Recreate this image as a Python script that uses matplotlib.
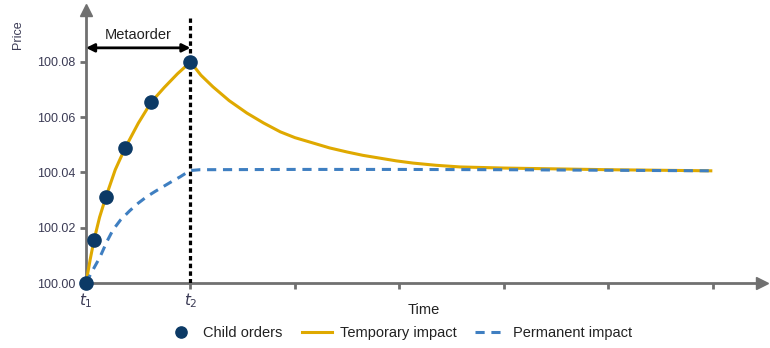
import matplotlib
matplotlib.use("Agg")
import matplotlib.pyplot as plt

plt.rcParams['font.family'] = ['Liberation Sans', 'DejaVu Sans']

# child orders (time in tick units, price)
order_t = [0, 0.077, 0.19, 0.375, 0.625, 1.0]
order_p = [100.0, 100.0156, 100.0311, 100.0489, 100.0655, 100.080]

# temporary impact curve
temp_t = [0, 0.04, 0.077, 0.13, 0.19, 0.28, 0.375, 0.5, 0.625, 0.75, 0.875, 1.0,
          1.1, 1.215, 1.37, 1.54, 1.7, 1.86, 2.0, 2.17, 2.33, 2.5, 2.65, 2.81,
          2.97, 3.13, 3.35, 3.58, 4.0, 4.5, 5.0, 5.5, 5.98]
temp_p = [100.0, 100.0085, 100.0156, 100.0238, 100.0311, 100.0410, 100.0489,
          100.0578, 100.0655, 100.0708, 100.0757, 100.080,
          100.0752, 100.0710, 100.0660, 100.0615, 100.0579, 100.0547, 100.0526,
          100.0507, 100.0489, 100.0474, 100.0462, 100.0452, 100.0442, 100.0434,
          100.0426, 100.0420, 100.0416, 100.0413, 100.0410, 100.0408, 100.0406]

# permanent impact curve
perm_t = [0, 0.07, 0.134, 0.2, 0.258, 0.33, 0.42, 0.5, 0.58, 0.66, 0.74, 0.82,
          0.90, 0.95, 1.0, 1.09, 2.0, 3.0, 4.0, 5.0, 5.98]
perm_p = [100.0, 100.0050, 100.0094, 100.0150, 100.0192, 100.0228, 100.0262,
          100.0289, 100.0312, 100.0331, 100.0349, 100.0367, 100.0384, 100.0396,
          100.0407, 100.0410, 100.0411, 100.0411, 100.0410, 100.0408, 100.0406]

x_ticks = [0, 1, 2, 3, 4, 5, 6]
x_labels = ['$t_1$', '$t_2$', '', '', '', '', '']
y_ticks = [100.00, 100.02, 100.04, 100.06, 100.08]

gold = '#dfa900'
blue = '#3f7fc1'
navy = '#0c3a66'
grey = '#707070'
txt = '#3b3b55'

fig = plt.figure(figsize=(7.7, 3.48), dpi=100)
ax = fig.add_axes([86 / 770, 65 / 348, 676 / 770, 273 / 348])
ax.set_xlim(0, 6.47)
ax.set_ylim(100.0, 100.0988)

ax.plot(temp_t, temp_p, color=gold, lw=2.2, label='Temporary impact', zorder=3)
ax.plot(perm_t, perm_p, color=blue, lw=2.2, ls=(0, (3, 2.2)), label='Permanent impact', zorder=3)
ax.plot(order_t, order_p, 'o', color=navy, ms=9.5, label='Child orders', zorder=5, clip_on=False)

# vertical marker at t2
ax.axvline(1.0, ymin=0, ymax=0.97, color='black', lw=2.3, ls=(0, (1.4, 1.0)), zorder=4)

# metaorder span
ax.annotate('', xy=(0, 100.0851), xytext=(1.0, 100.0851),
            arrowprops=dict(arrowstyle='<|-|>', color='black', lw=2, mutation_scale=12,
                            shrinkA=0, shrinkB=0))
ax.text(0.5, 100.0898, 'Metaorder', ha='center', va='center', fontsize=10.5, color='#222222')

for s in ['top', 'right']:
    ax.spines[s].set_visible(False)
for s in ['left', 'bottom']:
    ax.spines[s].set_color(grey)
    ax.spines[s].set_linewidth(2)
ax.plot(1, 0, '>', color=grey, ms=8, transform=ax.transAxes, clip_on=False)
ax.plot(0, 1, '^', color=grey, ms=8, transform=ax.transAxes, clip_on=False)

ax.set_xticks(x_ticks)
ax.set_xticklabels(x_labels, fontsize=11, color=txt)
ax.set_yticks(y_ticks)
ax.set_yticklabels(['%.2f' % v for v in y_ticks], fontsize=9, color=txt)
ax.tick_params(axis='both', direction='out', length=4, width=2, color=grey)
ax.tick_params(axis='x', pad=2)

fig.text(424 / 770, 1 - 310 / 348, 'Time', ha='center', va='center',
         fontsize=10.5, color='#222222')
fig.text(18 / 770, 1 - 35 / 348, 'Price', rotation=90, ha='center', va='center',
         fontsize=9, color=txt)

h, l = ax.get_legend_handles_labels()
order = [2, 0, 1]
fig.legend([h[i] for i in order], [l[i] for i in order], loc='center',
           bbox_to_anchor=(399 / 770, 1 - 333 / 348), ncol=3, frameon=False,
           fontsize=10.5, handlelength=2.1, handletextpad=0.5, columnspacing=1.3,
           markerscale=0.85, labelcolor='#222222')

fig.savefig('out.png', dpi=100)
